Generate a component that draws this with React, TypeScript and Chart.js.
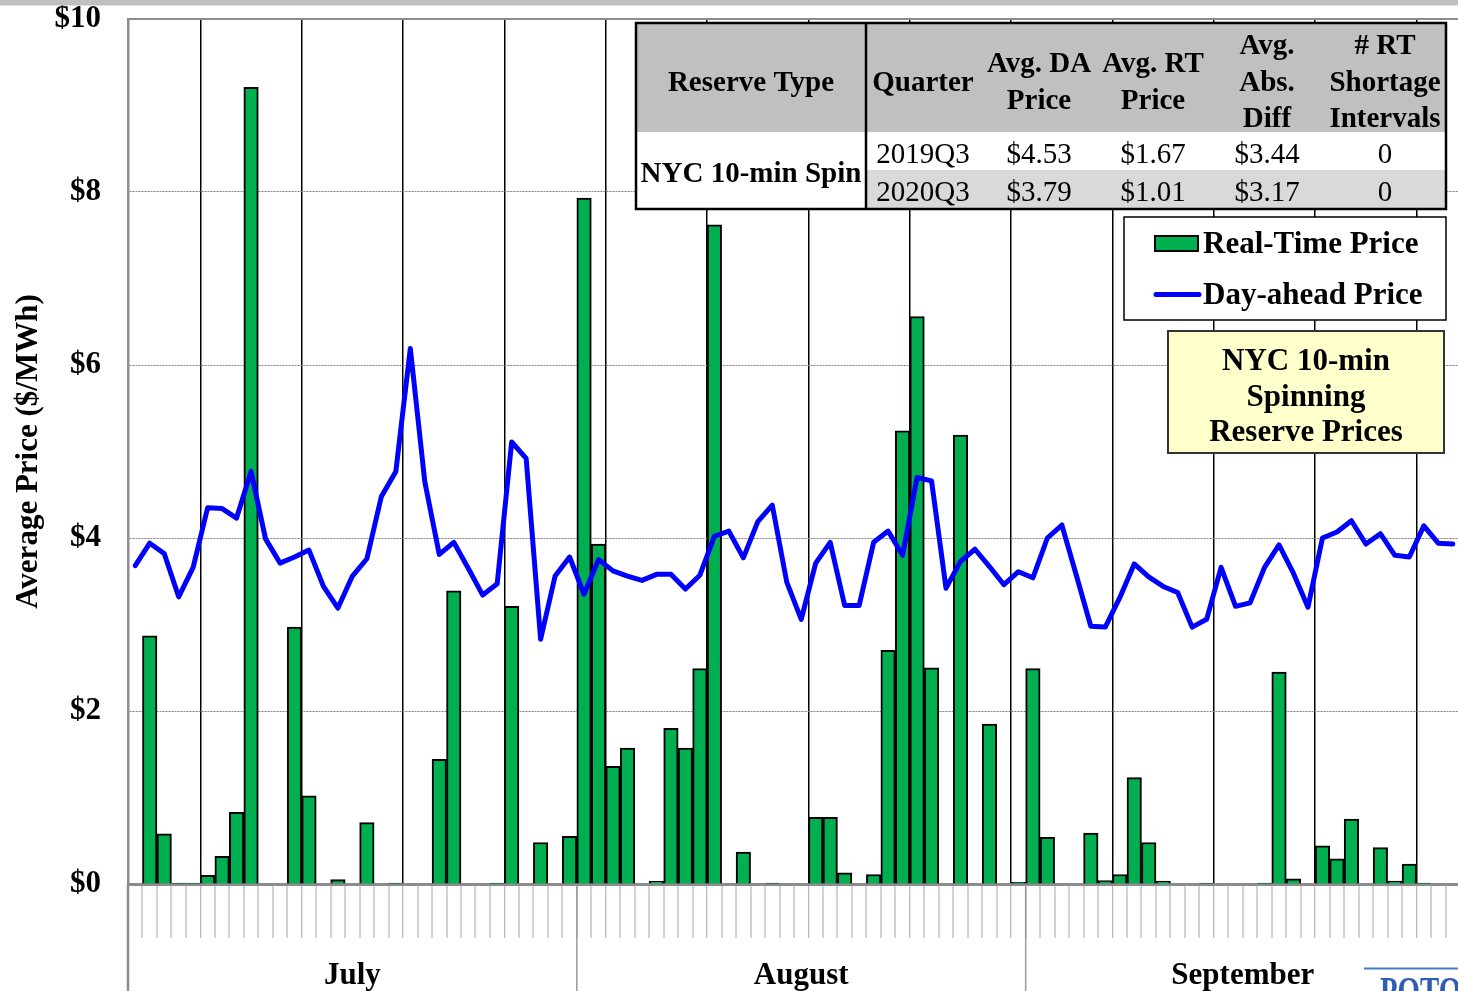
import React, { useEffect, useRef } from "react";
import { Chart, registerables } from "chart.js";

Chart.register(...registerables);

// ---------- data ----------
const MONTHS = ["July", "August", "September"];
const MONTH_NUMBERS = [7, 8, 9];
const MONTH_DAYS = [31, 31, 30];

// Real-time 10-min spinning reserve price, $/MWh (daily average)
const realTimePrice = [
  0, 2.87, 0.58, 0.01, 0.01, 0.1, 0.32, 0.83, 9.21, 0,
  0, 2.97, 1.02, 0, 0.05, 0, 0.71, 0, 0.01, 0,
  0, 1.44, 3.39, 0, 0, 0.01, 3.21, 0, 0.48, 0,
  0.55, 7.93, 3.93, 1.36, 1.57, 0, 0.03, 1.8, 1.57, 2.49,
  7.62, 0, 0.37, 0, 0.01, 0, 0, 0.77, 0.77, 0.13,
  0, 0.11, 2.7, 5.24, 6.56, 2.5, 0, 5.19, 0, 1.85,
  0, 0.02, 2.49, 0.54, 0, 0, 0.59, 0.04, 0.11, 1.23,
  0.48, 0.035, 0, 0, 0.01, 0, 0, 0, 0.01, 2.45,
  0.06, 0, 0.44, 0.29, 0.75, 0, 0.42, 0.035, 0.23, 0.01,
  0, 0,
];

// Day-ahead price, $/MWh (daily average)
const dayAheadPrice = [
  3.68, 3.94, 3.82, 3.32, 3.66, 4.35, 4.34, 4.23, 4.77, 3.99,
  3.71, 3.78, 3.86, 3.44, 3.19, 3.56, 3.76, 4.48, 4.77, 6.19,
  4.65, 3.81, 3.95, 3.65, 3.34, 3.47, 5.11, 4.92, 2.83, 3.56,
  3.78, 3.35, 3.75, 3.62, 3.56, 3.51, 3.58, 3.58, 3.41, 3.57,
  4.02, 4.08, 3.77, 4.19, 4.38, 3.49, 3.06, 3.71, 3.95, 3.22,
  3.22, 3.95, 4.08, 3.8, 4.7, 4.66, 3.42, 3.73, 3.87, 3.67,
  3.46, 3.61, 3.54, 4.0, 4.15, 3.57, 2.98, 2.97, 3.31, 3.7,
  3.55, 3.44, 3.37, 2.97, 3.06, 3.66, 3.21, 3.25, 3.66, 3.92,
  3.59, 3.2, 4.0, 4.07, 4.2, 3.93, 4.05, 3.8, 3.78, 4.14,
  3.94, 3.93,
];

const Y_MIN = 0;
const Y_MAX = 10;
const Y_STEP = 2;

const SERIES_NAMES = ["Real-Time Price", "Day-ahead Price"];
const Y_TITLE = "Average Price ($/MWh)";

const TABLE_HEADERS = [
  ["Reserve Type"],
  ["Quarter"],
  ["Avg. DA", "Price"],
  ["Avg. RT", "Price"],
  ["Avg.", "Abs.", "Diff"],
  ["# RT", "Shortage", "Intervals"],
];
const TABLE_RESERVE = "NYC 10-min Spin";
const TABLE_ROWS = [
  ["2019Q3", "$4.53", "$1.67", "$3.44", "0"],
  ["2020Q3", "$3.79", "$1.01", "$3.17", "0"],
];
const NOTE_LINES = ["NYC 10-min", "Spinning", "Reserve Prices"];
const LOGO_TEXT = "POTOMAC";

// ---------- styles ----------
const FONT = "'Liberation Serif', 'Times New Roman', serif";
const GREEN = "#00b050";
const BLUE = "#0000ff";

function buildLabels(): string[] {
  const out: string[] = [];
  MONTH_NUMBERS.forEach((m, i) => {
    for (let d = 1; d <= MONTH_DAYS[i]; d++) out.push(`${m}/${d}`);
  });
  return out;
}

const overlayPlugin = {
  id: "overlay",
  afterDraw(chart: any) {
    const ctx: CanvasRenderingContext2D = chart.ctx;
    const area = chart.chartArea;
    const xs = chart.scales.x;
    const n = chart.data.labels.length;
    const boundary = (k: number) => {
      if (k <= 0) return xs.getPixelForValue(0) - (xs.getPixelForValue(1) - xs.getPixelForValue(0)) / 2;
      if (k >= n) return xs.getPixelForValue(n - 1) + (xs.getPixelForValue(n - 1) - xs.getPixelForValue(n - 2)) / 2;
      return (xs.getPixelForValue(k - 1) + xs.getPixelForValue(k)) / 2;
    };
    const line = (x1: number, y1: number, x2: number, y2: number) => {
      ctx.beginPath();
      ctx.moveTo(x1, y1);
      ctx.lineTo(x2, y2);
      ctx.stroke();
    };

    ctx.save();
    // top grey band
    ctx.fillStyle = "#c0c0c0";
    ctx.fillRect(0, 0, chart.width, 5.5);

    // top frame of plot area
    ctx.strokeStyle = "#8c8c8c";
    ctx.lineWidth = 2;
    line(area.left, area.top, area.right, area.top);

    // month separators under the axis + month labels
    let start = 0;
    ctx.font = `bold 31px ${FONT}`;
    ctx.textAlign = "center";
    ctx.textBaseline = "alphabetic";
    MONTHS.forEach((name, i) => {
      const xa = boundary(start);
      const xb = boundary(start + MONTH_DAYS[i]);
      ctx.strokeStyle = i === 0 ? "#8c8c8c" : "#9a9a9a";
      ctx.lineWidth = i === 0 ? 2.5 : 1.5;
      line(xa, area.bottom, xa, chart.height);
      ctx.fillStyle = "#000";
      ctx.fillText(name, (xa + xb) / 2, 984);
      start += MONTH_DAYS[i];
    });

    // ---- summary table ----
    const tx0 = 636, tx1 = 866, tx2 = 1446;
    const ty0 = 23, ty1 = 132, ty2 = 170, ty3 = 209;
    ctx.fillStyle = "#c0c0c0";
    ctx.fillRect(tx0, ty0, tx2 - tx0, ty1 - ty0);
    ctx.fillStyle = "#ffffff";
    ctx.fillRect(tx0, ty1, tx2 - tx0, ty3 - ty1);
    ctx.fillStyle = "#d9d9d9";
    ctx.fillRect(tx1, ty2, tx2 - tx1, ty3 - ty2);
    ctx.strokeStyle = "#000";
    ctx.lineWidth = 2.5;
    ctx.strokeRect(tx0, ty0, tx2 - tx0, ty3 - ty0);
    line(tx1, ty0, tx1, ty3);

    const colCenters = [751, 923, 1039, 1153, 1267, 1385];
    const headerBaselines: Record<number, number[]> = {
      1: [91],
      2: [72, 109],
      3: [54, 91, 127],
    };
    ctx.fillStyle = "#000";
    ctx.textAlign = "center";
    ctx.font = `bold 29px ${FONT}`;
    TABLE_HEADERS.forEach((lines, c) => {
      const bls = headerBaselines[lines.length];
      lines.forEach((t, j) => ctx.fillText(t, colCenters[c], bls[j]));
    });
    ctx.fillText(TABLE_RESERVE, colCenters[0], 182);
    ctx.font = `29px ${FONT}`;
    const rowBaselines = [163, 201];
    TABLE_ROWS.forEach((row, r) => {
      row.forEach((t, c) => ctx.fillText(t, colCenters[c + 1], rowBaselines[r]));
    });

    // ---- legend ----
    ctx.fillStyle = "#fff";
    ctx.fillRect(1124, 217, 322, 103);
    ctx.strokeStyle = "#000";
    ctx.lineWidth = 1.5;
    ctx.strokeRect(1124, 217, 322, 103);
    ctx.fillStyle = GREEN;
    ctx.fillRect(1155, 236, 43, 15);
    ctx.lineWidth = 2;
    ctx.strokeRect(1155, 236, 43, 15);
    ctx.strokeStyle = BLUE;
    ctx.lineWidth = 5;
    ctx.lineCap = "round";
    line(1156, 294.5, 1199, 294.5);
    ctx.lineCap = "butt";
    ctx.fillStyle = "#000";
    ctx.font = `bold 31px ${FONT}`;
    ctx.textAlign = "left";
    ctx.fillText(SERIES_NAMES[0], 1203, 252.5);
    ctx.fillText(SERIES_NAMES[1], 1203, 304);

    // ---- note box ----
    ctx.fillStyle = "#ffffcc";
    ctx.fillRect(1168, 331, 276, 122);
    ctx.strokeStyle = "#333";
    ctx.lineWidth = 2;
    ctx.strokeRect(1168, 331, 276, 122);
    ctx.fillStyle = "#000";
    ctx.textAlign = "center";
    const noteBl = [370, 405.5, 441];
    NOTE_LINES.forEach((t, i) => ctx.fillText(t, 1306, noteBl[i]));

    // ---- logo fragment ----
    ctx.strokeStyle = "#4a78c8";
    ctx.lineWidth = 2;
    line(1364, 968.5, chart.width, 968.5);
    ctx.save();
    ctx.translate(1380, 1004);
    ctx.scale(0.72, 1);
    ctx.fillStyle = "#2f5cb5";
    ctx.font = `bold 40px ${FONT}`;
    ctx.textAlign = "left";
    ctx.fillText(LOGO_TEXT, 0, 0);
    ctx.restore();

    ctx.restore();
  },
};

export default function App() {
  const ref = useRef<HTMLCanvasElement>(null);

  useEffect(() => {
    const canvas = ref.current;
    if (!canvas) return;
    Chart.defaults.font.family = FONT;
    Chart.defaults.color = "#000";
    const labels = buildLabels();

    const chart = new Chart(canvas, {
      type: "bar",
      data: {
        labels,
        datasets: [
          {
            type: "line",
            label: SERIES_NAMES[1],
            data: dayAheadPrice,
            borderColor: BLUE,
            backgroundColor: BLUE,
            borderWidth: 5,
            pointRadius: 0,
            tension: 0,
            borderJoinStyle: "round",
            borderCapStyle: "round",
            order: 0,
          } as any,
          {
            type: "bar",
            label: SERIES_NAMES[0],
            data: realTimePrice,
            backgroundColor: GREEN,
            borderColor: "#000",
            borderWidth: 2,
            borderSkipped: "start",
            categoryPercentage: 1,
            barPercentage: 1,
            order: 1,
          } as any,
        ],
      },
      options: {
        responsive: false,
        animation: false,
        events: [],
        layout: { padding: { top: 19, right: 2, left: 0, bottom: 0 } },
        plugins: {
          legend: { display: false },
          tooltip: { enabled: false },
        },
        scales: {
          x: {
            type: "category",
            offset: true,
            ticks: { display: false, autoSkip: false },
            grid: {
              offset: true,
              color: (c: any) =>
                c.index !== undefined && c.index % 7 === 5 ? "#000" : "rgba(0,0,0,0)",
              lineWidth: (c: any) =>
                c.index !== undefined && c.index % 7 === 5 ? 1.5 : 0,
              drawTicks: true,
              tickLength: 54,
              tickColor: "#a6a6a6",
              tickWidth: 1,
            },
            border: { color: "#8c8c8c", width: 3 },
            afterFit: (s: any) => {
              s.height = 107;
              s.paddingLeft = 0;
              s.paddingRight = 0;
            },
          },
          y: {
            min: Y_MIN,
            max: Y_MAX,
            ticks: {
              stepSize: Y_STEP,
              callback: (v: any) => `$${v}`,
              font: { size: 31, weight: "bold" },
              color: "#000",
              padding: 27,
            },
            grid: { color: "#808080", lineWidth: 1, drawTicks: false },
            border: { dash: [2, 1], color: "#8c8c8c", width: 2.5 },
            title: {
              display: true,
              text: Y_TITLE,
              font: { size: 31, weight: "bold" },
              color: "#000",
              padding: { top: 10, bottom: 0 },
            },
            afterFit: (s: any) => {
              s.width = 128;
              s.paddingTop = 0;
              s.paddingBottom = 0;
            },
          },
        },
      },
      plugins: [overlayPlugin],
    } as any);

    return () => chart.destroy();
  }, []);

  return (
    <div
      style={{
        position: "fixed",
        left: 0,
        top: 0,
        width: 1458,
        height: 991,
        overflow: "hidden",
        background: "#fff",
      }}
    >
      <canvas ref={ref} width={1462} height={991} style={{ display: "block" }} />
    </div>
  );
}
